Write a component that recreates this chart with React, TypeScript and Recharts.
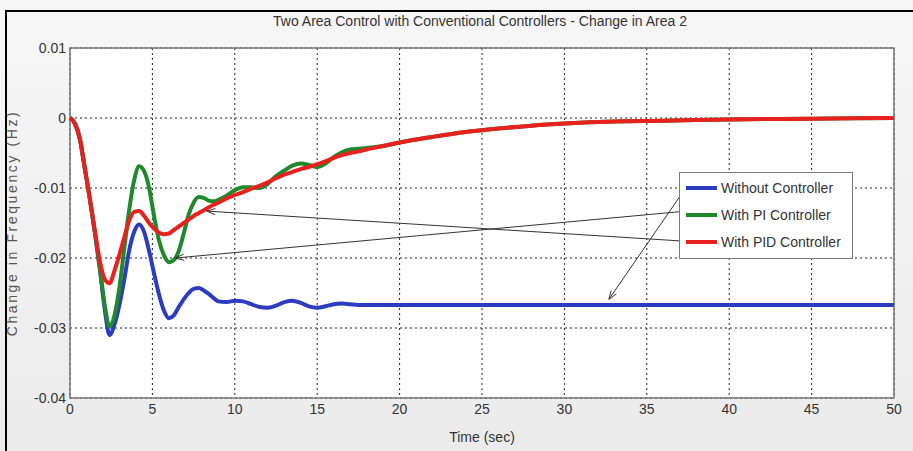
import {
  CartesianGrid,
  Legend,
  Line,
  LineChart,
  ReferenceArea,
  ReferenceLine,
  XAxis,
  YAxis,
} from 'recharts';

const FONT = '"Liberation Sans Narrow", "Arial Narrow", "Liberation Sans", Arial, sans-serif';

const TIME = [
  0, 0.3, 0.6, 0.9, 1.2, 1.5, 1.8, 2.1, 2.4, 2.7, 3.0, 3.3, 3.6, 3.9, 4.2, 4.5, 4.8, 5.1, 5.4, 5.7,
  6.0, 6.3, 6.6, 6.9, 7.2, 7.5, 7.8, 8.1, 8.4, 8.7, 9.0, 9.5, 10, 10.5, 11, 11.5, 12, 12.5, 13, 13.5,
  14, 14.5, 15, 15.5, 16, 16.5, 17, 17.5, 18, 19, 20, 22, 24, 26, 28, 30, 33, 36, 40, 45, 50,
];

const WITHOUT_CONTROLLER = [
  0, -0.0008, -0.003, -0.0072, -0.0115, -0.0162, -0.0214, -0.0272, -0.031, -0.0295, -0.0267,
  -0.023, -0.0188, -0.0162, -0.0152, -0.0163, -0.019, -0.0222, -0.0252, -0.0275, -0.0286, -0.0282,
  -0.027, -0.0259, -0.025, -0.0244, -0.0243, -0.0246, -0.0251, -0.0257, -0.0262, -0.0263, -0.0261,
  -0.0262, -0.0266, -0.027, -0.0271, -0.0268, -0.0263, -0.0261, -0.0264, -0.0269, -0.0271, -0.0269,
  -0.0266, -0.0265, -0.0266, -0.0267, -0.0267, -0.0267, -0.0267, -0.0267, -0.0267, -0.0267,
  -0.0267, -0.0267, -0.0267, -0.0267, -0.0267, -0.0267, -0.0267,
];

const WITH_PI = [
  0, -0.0008, -0.003, -0.0072, -0.0115, -0.0162, -0.0212, -0.0266, -0.0298, -0.0282, -0.0242,
  -0.0185, -0.013, -0.0088, -0.0069, -0.0076, -0.01, -0.014, -0.0175, -0.0196, -0.0206, -0.0203,
  -0.019, -0.0165, -0.0138, -0.0121, -0.0113, -0.0114, -0.0118, -0.0119, -0.0117, -0.0111, -0.0103,
  -0.0099, -0.0099, -0.01, -0.0094, -0.0083, -0.0075, -0.0068, -0.0065, -0.0067, -0.007, -0.0065,
  -0.0056, -0.0049, -0.0045, -0.0044, -0.0043, -0.004, -0.0035, -0.0027, -0.002, -0.0015, -0.0011,
  -0.0008, -0.0005, -0.0004, -0.0002, -0.0001, 0,
];

const WITH_PID = [
  0, -0.0008, -0.003, -0.0072, -0.0115, -0.016, -0.0203, -0.023, -0.0236, -0.0218, -0.0195,
  -0.017, -0.0146, -0.0134, -0.0133, -0.014, -0.015, -0.0158, -0.0164, -0.0166, -0.0165, -0.016,
  -0.0155, -0.015, -0.0145, -0.014, -0.0136, -0.0132, -0.0128, -0.0124, -0.0121, -0.0115, -0.011,
  -0.0106, -0.0101, -0.0097, -0.0092, -0.0086, -0.0081, -0.0077, -0.0073, -0.007, -0.0066, -0.0062,
  -0.0057, -0.0053, -0.005, -0.0048, -0.0045, -0.004, -0.0035, -0.0027, -0.002, -0.0015, -0.0011,
  -0.0008, -0.0005, -0.0004, -0.0002, -0.0001, 0,
];

const X_TICKS = [0, 5, 10, 15, 20, 25, 30, 35, 40, 45, 50];
const Y_TICKS = [0.01, 0, -0.01, -0.02, -0.03, -0.04];

const SERIES = [
  { key: 'none', name: 'Without Controller', color: '#2b3cc0' },
  { key: 'pi', name: 'With PI Controller', color: '#1f8a2c' },
  { key: 'pid', name: 'With PID Controller', color: '#e8201e' },
];

// annotation arrows: legend entry -> curve
const ARROWS = [
  { from: { x: 37.3, y: -0.0102 }, to: { x: 32.7, y: -0.0259 } },
  { from: { x: 37.4, y: -0.0133 }, to: { x: 6.4, y: -0.02 } },
  { from: { x: 37.3, y: -0.0176 }, to: { x: 8.3, y: -0.0133 } },
];

const data = TIME.map((t, i) => ({
  t,
  none: WITHOUT_CONTROLLER[i],
  pi: WITH_PI[i],
  pid: WITH_PID[i],
}));

function Arrow(props: any) {
  const { x1, y1, x2, y2 } = props;
  const ang = Math.atan2(y2 - y1, x2 - x1);
  const len = 9;
  const spread = 0.35;
  const ax = x2 - len * Math.cos(ang - spread);
  const ay = y2 - len * Math.sin(ang - spread);
  const bx = x2 - len * Math.cos(ang + spread);
  const by = y2 - len * Math.sin(ang + spread);
  return (
    <g>
      <line x1={x1} y1={y1} x2={x2} y2={y2} stroke="#333" strokeWidth={1} />
      <path d={`M${ax},${ay} L${x2},${y2} L${bx},${by}`} fill="none" stroke="#333" strokeWidth={1} />
    </g>
  );
}

function renderLegend() {
  return (
    <div
      style={{
        boxSizing: 'border-box',
        width: 174,
        height: 87,
        background: '#fff',
        border: '1px solid #7a7a7a',
        padding: '1px 6px 0 6px',
        fontFamily: FONT,
        fontSize: 14,
        color: '#333',
      }}
    >
      {SERIES.map((s) => (
        <div key={s.key} style={{ display: 'flex', alignItems: 'center', height: 27 }}>
          <span style={{ width: 31, height: 4, background: s.color, marginRight: 4 }} />
          <span>{s.name}</span>
        </div>
      ))}
    </div>
  );
}

export default function App() {
  return (
    <div
      style={{
        position: 'fixed',
        left: 0,
        top: 0,
        width: 913,
        height: 451,
        background: 'linear-gradient(180deg, #f8f7f7 0%, #ebebeb 100%)',
        overflow: 'hidden',
      }}
    >
      <div
        style={{
          position: 'absolute',
          left: 0,
          width: 960,
          top: 13,
          textAlign: 'center',
          fontFamily: FONT,
          fontSize: 14,
          color: '#333',
        }}
      >
        Two Area Control with Conventional Controllers - Change in Area 2
      </div>
      <LineChart
        width={913}
        height={451}
        data={data}
        margin={{ top: 48, right: 19, bottom: 23, left: 0 }}
        style={{ position: 'absolute', left: 0, top: 0 }}
      >
        <CartesianGrid
          stroke="#222"
          strokeDasharray="2 3"
          fill="#fff"
          fillOpacity={1}
          horizontalValues={Y_TICKS}
          verticalValues={X_TICKS}
        />
        <ReferenceArea x1={0} x2={50} y1={-0.04} y2={0.01} fill="none" stroke="#777" strokeWidth={1.5} />
        <XAxis
          dataKey="t"
          type="number"
          domain={[0, 50]}
          ticks={X_TICKS}
          height={30}
          axisLine={false}
          tickLine={false}
          tickSize={3}
          tickMargin={3}
          tick={{ fontSize: 14, fill: '#333', fontFamily: FONT }}
          label={{
            value: 'Time (sec)',
            position: 'insideBottom',
            offset: -14,
            style: { fontSize: 14, fill: '#333', fontFamily: FONT },
          }}
        />
        <YAxis
          type="number"
          domain={[-0.04, 0.01]}
          ticks={Y_TICKS}
          width={70}
          axisLine={false}
          tickLine={false}
          tickSize={2}
          tickMargin={2}
          tick={{ fontSize: 14, fill: '#333', fontFamily: FONT }}
          label={{
            value: 'Change in Frequency (Hz)',
            angle: -90,
            position: 'insideLeft',
            offset: 12,
            style: {
              fontSize: 14,
              fill: '#555',
              fontFamily: '"Liberation Sans", Arial, sans-serif',
              letterSpacing: 2.6,
              textAnchor: 'middle',
            },
          }}
        />
        {SERIES.map((s) => (
          <Line
            key={s.key}
            dataKey={s.key}
            name={s.name}
            type="monotone"
            stroke={s.color}
            strokeWidth={4}
            dot={false}
            isAnimationActive={false}
          />
        ))}
        {ARROWS.map((a, i) => (
          <ReferenceLine key={i} segment={[a.from, a.to]} shape={Arrow} />
        ))}
        <Legend
          layout="vertical"
          align="center"
          verticalAlign="middle"
          content={renderLegend}
          wrapperStyle={{ left: 679, top: 172, width: 174, height: 87 }}
        />
      </LineChart>
      <div
        style={{
          position: 'absolute',
          left: 5,
          top: 10,
          width: 920,
          height: 460,
          borderTop: '2px solid #000',
          borderLeft: '2px solid #000',
          pointerEvents: 'none',
        }}
      />
    </div>
  );
}
